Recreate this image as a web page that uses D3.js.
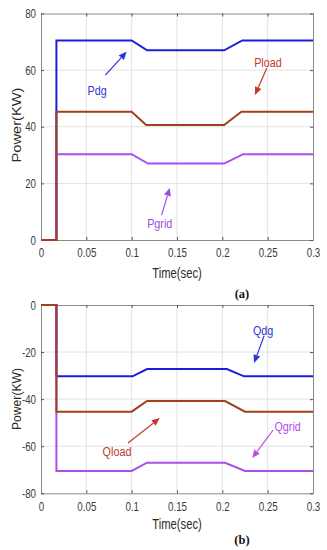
<!DOCTYPE html>
<html>
<head>
<meta charset="utf-8">
<script src="https://cdn.jsdelivr.net/npm/d3@7"></script>
<style>
  body { margin: 0; background: #fff; }
  svg { display: block; font-family: "Liberation Sans", Arial, sans-serif; }
</style>
</head>
<body>
<svg id="chart" width="327" height="550"></svg>
<script>
// axis ticks
const timeTicks = [0, 0.05, 0.1, 0.15, 0.2, 0.25, 0.3];
const pTicks = [0, 20, 40, 60, 80];
const qTicks = [-80, -60, -40, -20, 0];

// (a) active power, KW
const pdgTime = [0, 0.017, 0.017, 0.1, 0.117, 0.202, 0.222, 0.3];
const pdgKW = [0, 0, 70.5, 70.5, 67, 67, 70.5, 70.5];
const pgridTime = [0, 0.017, 0.017, 0.1, 0.118, 0.202, 0.223, 0.3];
const pgridKW = [0, 0, 30.3, 30.3, 27, 27, 30.3, 30.3];
const ploadTime = [0, 0.017, 0.017, 0.1, 0.116, 0.202, 0.221, 0.3];
const ploadKW = [0, 0, 45.3, 45.3, 40.6, 40.6, 45.3, 45.3];

// (b) reactive power
const qdgTime = [0, 0.017, 0.017, 0.101, 0.117, 0.205, 0.224, 0.3];
const qdgKW = [0, 0, -30.3, -30.3, -27.2, -27.2, -30.3, -30.3];
const qgridTime = [0, 0.017, 0.017, 0.1, 0.117, 0.203, 0.225, 0.3];
const qgridKW = [0, 0, -70.5, -70.5, -67, -67, -70.5, -70.5];
const qloadTime = [0, 0.017, 0.017, 0.1, 0.117, 0.203, 0.225, 0.3];
const qloadKW = [0, 0, -45.3, -45.3, -40.8, -40.8, -45.3, -45.3];

const blue = "#1c1ce0", brown = "#a0401c", purple = "#a84ff0";
const SX = 0.75; // the figure's lettering is squeezed sideways

const svg = d3.select("#chart");

// text placed at (x,y), squeezed horizontally
function squeezed(g, x, y, txt, size, sx) {
  return g.append("text")
    .attr("transform", `translate(${x},${y}) scale(${sx},1)`)
    .attr("text-anchor", "middle").attr("dy", "0.35em")
    .attr("font-size", size)
    .text(txt);
}

function panel(cfg) {
  const x = d3.scaleLinear().domain([0, 0.3]).range([41, 313]);
  const y = d3.scaleLinear().domain(cfg.yDomain).range([cfg.bottom, cfg.top]);
  const g = svg.append("g");

  // grid
  g.append("g").selectAll("line").data(timeTicks.slice(1, -1)).join("line")
    .attr("x1", d => x(d)).attr("x2", d => x(d))
    .attr("y1", cfg.top).attr("y2", cfg.bottom)
    .attr("stroke", "#e2e2e2").attr("stroke-width", 1);
  g.append("g").selectAll("line").data(cfg.yTicks.slice(1, -1)).join("line")
    .attr("y1", d => y(d)).attr("y2", d => y(d))
    .attr("x1", 41).attr("x2", 313)
    .attr("stroke", "#e2e2e2").attr("stroke-width", 1);

  const fmtT = d => d === 0 ? "0" : String(+d.toFixed(2));
  const fmtY = d => String(d).replace("\u2212", "-");

  // axes, ticks pointing in, on all four sides
  const xb = g.append("g").attr("transform", `translate(0,${cfg.bottom})`)
    .call(d3.axisBottom(x).tickValues(timeTicks).tickSizeInner(-3).tickSizeOuter(0).tickPadding(8).tickFormat(fmtT));
  const xt = g.append("g").attr("transform", `translate(0,${cfg.top})`)
    .call(d3.axisTop(x).tickValues(timeTicks).tickSizeInner(-3).tickSizeOuter(0).tickFormat(""));
  const yl = g.append("g").attr("transform", "translate(41,0)")
    .call(d3.axisLeft(y).tickValues(cfg.yTicks).tickSizeInner(-3).tickSizeOuter(0).tickFormat(fmtY));
  const yr = g.append("g").attr("transform", "translate(313,0)")
    .call(d3.axisRight(y).tickValues(cfg.yTicks).tickSizeInner(-3).tickSizeOuter(0).tickFormat(""));
  [xb, xt, yl, yr].forEach(a => {
    a.select(".domain").attr("stroke", "#8a8a8a");
    a.selectAll(".tick line").attr("stroke", "#555");
    a.selectAll("text").attr("fill", "#3a3a3a").attr("font-size", 13)
      .attr("font-family", "'Liberation Sans', sans-serif");
  });
  xb.selectAll("text").attr("transform", `scale(${SX},1)`);
  yl.selectAll("text").attr("transform", `scale(${SX},1)`).attr("x", -5 / SX);

  const line = d3.line().x(d => x(d[0])).y(d => y(d[1]));
  cfg.series.forEach(s => {
    g.append("path")
      .datum(s.t.map((t, i) => [t, s.v[i]]))
      .attr("d", line)
      .attr("fill", "none")
      .attr("stroke", s.color)
      .attr("stroke-width", 2);
  });

  // annotations
  cfg.notes.forEach(n => {
    const x1 = x(n.tail[0]), y1 = y(n.tail[1]);
    const x2 = x(n.head[0]), y2 = y(n.head[1]);
    const ang = Math.atan2(y2 - y1, x2 - x1);
    const L = 8, W = 3.5;
    const bx = x2 - L * Math.cos(ang), by = y2 - L * Math.sin(ang);
    g.append("line").attr("x1", x1).attr("y1", y1).attr("x2", bx).attr("y2", by)
      .attr("stroke", n.color).attr("stroke-width", 1.2);
    g.append("path")
      .attr("d", `M${x2},${y2}L${bx - W * Math.sin(ang)},${by + W * Math.cos(ang)}L${bx + W * Math.sin(ang)},${by - W * Math.cos(ang)}Z`)
      .attr("fill", n.color);
    squeezed(g, x(n.at[0]), y(n.at[1]), n.label, 13.5, 0.8).attr("fill", n.color);
  });

  squeezed(g, 177, cfg.bottom + cfg.timeDy, "Time(sec)", 15, 0.75).attr("fill", "#2a2a2a");
  g.append("text")
    .attr("transform", `translate(21,${cfg.labelY}) rotate(-90)`)
    .attr("text-anchor", "middle").attr("font-size", 13).attr("fill", "#2a2a2a")
    .attr("font-family", "'Liberation Sans', sans-serif")
    .attr("textLength", cfg.labelLen).attr("lengthAdjust", "spacingAndGlyphs")
    .text("Power(KW)");
  g.append("text").attr("x", 242).attr("y", cfg.bottom + cfg.tagDy)
    .attr("text-anchor", "middle").attr("font-size", 12.5).attr("font-weight", "bold")
    .attr("font-family", "'Liberation Serif', serif").attr("fill", "#111")
    .text(cfg.tag);
}

panel({
  top: 13.5, bottom: 240, yDomain: [0, 80], yTicks: pTicks, labelY: 125, labelLen: 75,
  tag: "(a)", tagDy: 58, timeDy: 33,
  series: [
    { t: pdgTime, v: pdgKW, color: blue },
    { t: pgridTime, v: pgridKW, color: purple },
    { t: ploadTime, v: ploadKW, color: brown }
  ],
  notes: [
    { label: "Pdg", at: [0.062, 53], tail: [0.071, 58.2], head: [0.0945, 66.5], color: "#2a36d8" },
    { label: "Pload", at: [0.2503, 62.8], tail: [0.249, 60.7], head: [0.236, 51.2], color: "#c0392b" },
    { label: "Pgrid", at: [0.131, 6], tail: [0.133, 8.8], head: [0.142, 18.4], color: "#9b4de0" }
  ]
});

panel({
  top: 305, bottom: 493.3, yDomain: [-80, 0], yTicks: qTicks, labelY: 399, labelLen: 62,
  tag: "(b)", tagDy: 50.5, timeDy: 30,
  series: [
    { t: qdgTime, v: qdgKW, color: blue },
    { t: qgridTime, v: qgridKW, color: purple },
    { t: qloadTime, v: qloadKW, color: brown }
  ],
  notes: [
    { label: "Qdg", at: [0.245, -10.6], tail: [0.246, -13.2], head: [0.235, -24.6], color: "#2a36d8" },
    { label: "Qload", at: [0.0838, -62], tail: [0.096, -58.6], head: [0.131, -48], color: "#c0392b" },
    { label: "Qgrid", at: [0.272, -51.4], tail: [0.256, -53.1], head: [0.233, -65], color: "#b44fe8" }
  ]
});
</script>
</body>
</html>
